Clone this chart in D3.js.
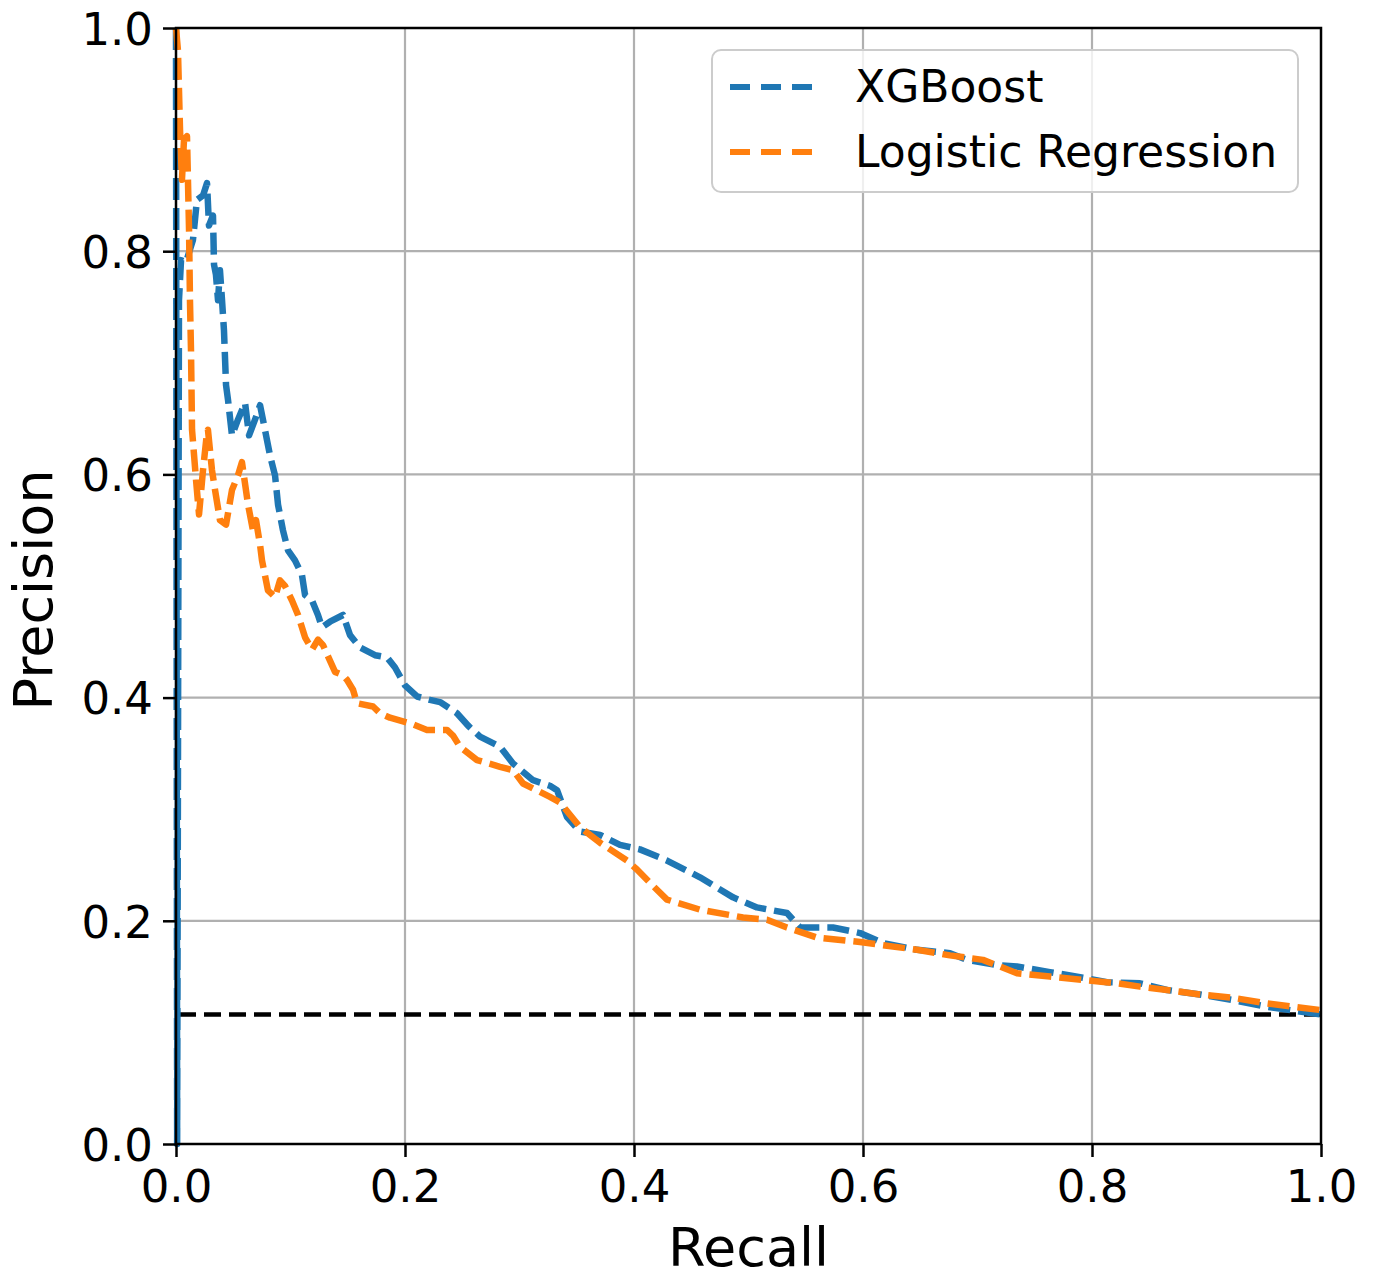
<!DOCTYPE html>
<html>
<head>
<meta charset="utf-8">
<script src="https://cdn.jsdelivr.net/npm/d3@7"></script>
<style>
  body{margin:0;background:#fff;}
  text{font-family:"DejaVu Sans",sans-serif;fill:#000;}
</style>
</head>
<body>
<div id="myPR"></div>
<script>
/* tick labels */
var xTicks=[0.0,0.2,0.4,0.6,0.8,1.0];
var yTicks=[0.0,0.2,0.4,0.6,0.8,1.0];
var seriesNames=["XGBoost","Logistic Regression"];
var seriesColors=["#1f77b4","#ff7f0e"];
/* baseline precision (share of positives) */
var baseline=0.116;

/* XGBoost curve */
var xgbRecall=[0.0,0.001,0.0026,0.0044,0.0087,0.0148,0.0183,0.0236,0.0271,0.0288,0.0323,0.0332,0.0349,0.0367,0.0384,0.0402,0.0419,0.0437,0.0454,0.0489,0.0541,0.0603,0.0638,0.069,0.0734,0.0777,0.0821,0.0865,0.0891,0.0934,0.0978,0.1039,0.11,0.1127,0.1188,0.124,0.1275,0.1345,0.1459,0.152,0.1607,0.1738,0.1843,0.1913,0.2,0.2105,0.2218,0.2306,0.2454,0.255,0.2655,0.283,0.2943,0.3118,0.3266,0.3328,0.3415,0.3528,0.3703,0.3878,0.4052,0.4288,0.4576,0.4865,0.5074,0.5336,0.545,0.5738,0.5974,0.6175,0.6472,0.676,0.6908,0.7197,0.7345,0.7633,0.7921,0.8131,0.8419,0.8655,0.8943,0.9231,0.9528,1.0];
var xgbPrecision=[1.0,0.0,0.756,0.792,0.79,0.81,0.846,0.85,0.861,0.823,0.832,0.788,0.779,0.756,0.783,0.756,0.729,0.68,0.667,0.635,0.649,0.664,0.635,0.649,0.662,0.64,0.617,0.599,0.573,0.55,0.532,0.523,0.51,0.492,0.487,0.474,0.463,0.468,0.474,0.456,0.445,0.438,0.436,0.427,0.411,0.401,0.398,0.396,0.386,0.375,0.365,0.356,0.341,0.326,0.321,0.317,0.293,0.28,0.277,0.268,0.264,0.254,0.239,0.221,0.212,0.207,0.194,0.194,0.189,0.18,0.174,0.171,0.165,0.16,0.159,0.154,0.149,0.145,0.144,0.138,0.134,0.129,0.123,0.116];

/* Logistic Regression curve */
var lrRecall=[0.0,0.0017,0.0035,0.0052,0.007,0.0096,0.0114,0.0122,0.0131,0.014,0.0175,0.0201,0.0236,0.0271,0.0279,0.0314,0.0341,0.0384,0.0437,0.0489,0.0541,0.0576,0.0629,0.0672,0.0699,0.0734,0.0751,0.0803,0.0865,0.0908,0.0952,0.1013,0.1066,0.1127,0.1188,0.124,0.1284,0.1389,0.1459,0.1493,0.1546,0.1581,0.1721,0.1782,0.1869,0.2044,0.2192,0.2367,0.2419,0.248,0.2629,0.283,0.2943,0.3031,0.3266,0.3354,0.3528,0.3703,0.3939,0.4026,0.414,0.4288,0.4576,0.4952,0.5162,0.5336,0.5598,0.5974,0.6472,0.676,0.7048,0.7345,0.7633,0.7921,0.8218,0.8419,0.8655,0.8943,0.9231,0.9528,1.0];
var lrPrecision=[1.0,0.98,0.909,0.864,0.9,0.903,0.819,0.756,0.711,0.64,0.595,0.564,0.604,0.638,0.64,0.604,0.586,0.559,0.555,0.586,0.599,0.611,0.573,0.55,0.559,0.537,0.523,0.496,0.49,0.505,0.5,0.487,0.474,0.454,0.443,0.452,0.447,0.423,0.42,0.416,0.407,0.395,0.392,0.386,0.382,0.377,0.371,0.371,0.366,0.356,0.344,0.338,0.335,0.323,0.311,0.306,0.284,0.27,0.254,0.246,0.234,0.219,0.21,0.203,0.201,0.194,0.185,0.181,0.174,0.169,0.165,0.153,0.15,0.147,0.144,0.141,0.138,0.134,0.131,0.126,0.12,0.116];

var svgWidth=1377, svgHeight=1282;
var gLateX=176, gLateY=28;
var axisWidth=1145, axisHeight=1116;

var svg=d3.select("#myPR").append("svg")
    .attr("width",svgWidth)
    .attr("height",svgHeight);
var g=svg.append("g")
    .attr("transform","translate("+gLateX+","+gLateY+")");

var xScale=d3.scaleLinear().domain([0,1]).range([0,axisWidth]);
var yScale=d3.scaleLinear().domain([0,1]).range([axisHeight,0]);

/* grid */
g.append("g").selectAll("line").data(xTicks.slice(1,-1)).enter().append("line")
    .attr("x1",function(d){return xScale(d);}).attr("x2",function(d){return xScale(d);})
    .attr("y1",0).attr("y2",axisHeight)
    .attr("stroke","#b0b0b0").attr("stroke-width",2.2);
g.append("g").selectAll("line").data(yTicks.slice(1,-1)).enter().append("line")
    .attr("y1",function(d){return yScale(d);}).attr("y2",function(d){return yScale(d);})
    .attr("x1",0).attr("x2",axisWidth)
    .attr("stroke","#b0b0b0").attr("stroke-width",2.2);

/* baseline */
g.append("line")
    .attr("x1",xScale(0)+3).attr("x2",xScale(1))
    .attr("y1",yScale(baseline)).attr("y2",yScale(baseline))
    .attr("stroke","#000").attr("stroke-width",4.5)
    .attr("stroke-dasharray","17,8");

/* curves */
var line=d3.line()
    .x(function(d){return xScale(d[0]);})
    .y(function(d){return yScale(d[1]);});
var curves=[d3.zip(xgbRecall,xgbPrecision),d3.zip(lrRecall,lrPrecision)];
curves.forEach(function(c,i){
    g.append("path")
        .datum(c)
        .attr("d",line)
        .attr("fill","none")
        .attr("stroke",seriesColors[i])
        .attr("stroke-width",6.5)
        .attr("stroke-linejoin","round")
        .attr("stroke-dasharray","22,8");
});

/* axes */
var yAxis=d3.axisLeft(yScale)
    .tickValues(yTicks)
    .tickFormat(d3.format(".1f"))
    .tickSize(13)
    .tickPadding(10);
var xAxis=d3.axisBottom(xScale)
    .tickValues(xTicks)
    .tickFormat(d3.format(".1f"))
    .tickSize(13)
    .tickPadding(13);
var gy=g.append("g").call(yAxis);
var gx=g.append("g").attr("transform","translate(0,"+axisHeight+")").call(xAxis);
[gx,gy].forEach(function(a){
    a.select(".domain").remove();
    a.selectAll(".tick line").attr("stroke","#000").attr("stroke-width",2.5);
    a.selectAll(".tick text").style("font-size","45px").attr("fill","#000");
});
gy.selectAll(".tick text").attr("dy","0.36em");

/* spines */
g.append("rect")
    .attr("x",0).attr("y",0)
    .attr("width",axisWidth).attr("height",axisHeight)
    .attr("fill","none").attr("stroke","#000").attr("stroke-width",2.5);

/* axis titles */
svg.append("text")
    .attr("x",gLateX+axisWidth/2).attr("y",1266)
    .attr("text-anchor","middle")
    .style("font-size","54px")
    .text("Recall");
svg.append("text")
    .attr("transform","translate(52,590) rotate(-90)")
    .attr("text-anchor","middle")
    .style("font-size","54px")
    .text("Precision");

/* legend */
var leg=svg.append("g").attr("transform","translate(712,50)");
leg.append("rect")
    .attr("width",586).attr("height",142).attr("rx",9)
    .attr("fill","#fff").attr("fill-opacity",0.8)
    .attr("stroke","#cccccc").attr("stroke-width",2);
seriesNames.forEach(function(n,i){
    var yy=37+i*65;
    leg.append("line")
        .attr("x1",18).attr("x2",110)
        .attr("y1",yy).attr("y2",yy)
        .attr("stroke",seriesColors[i]).attr("stroke-width",6)
        .attr("stroke-dasharray","20,11");
    leg.append("text")
        .attr("x",143).attr("y",yy+15)
        .style("font-size","44px")
        .text(n);
});
</script>
</body>
</html>
